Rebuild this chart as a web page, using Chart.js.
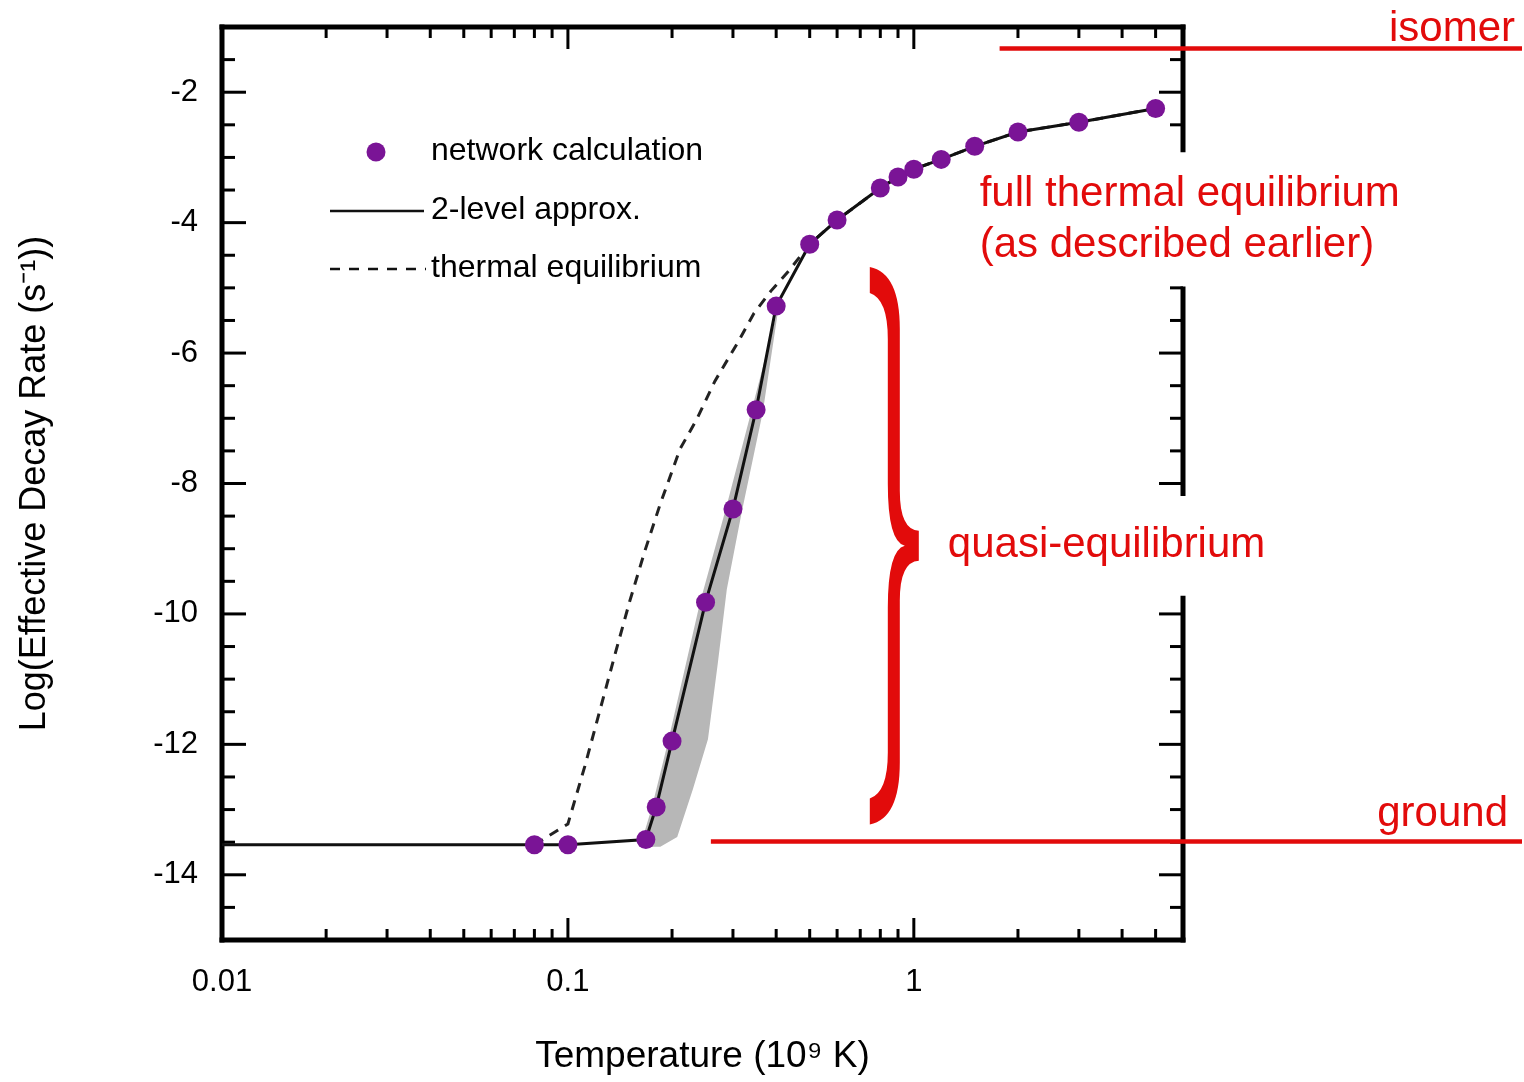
<!DOCTYPE html>
<html>
<head>
<meta charset="utf-8">
<script src="https://cdn.jsdelivr.net/npm/chart.js@4.4.1/dist/chart.umd.min.js"></script>
<style>
html,body{margin:0;padding:0;background:#fff;}
#wrap{width:1524px;height:1082px;position:relative;}
</style>
</head>
<body>
<div id="wrap"><canvas id="c" width="1524" height="1082"></canvas></div>
<script>
// ---------------- DATA ----------------
const networkT        = [0.08, 0.1, 0.168, 0.18, 0.2, 0.25, 0.3, 0.35, 0.4, 0.5, 0.6, 0.8, 0.9, 1, 1.2, 1.5, 2, 3, 5];
const networkLogRate  = [-13.54, -13.54, -13.46, -12.96, -11.95, -9.82, -8.39, -6.87, -5.28, -4.33, -3.96, -3.47, -3.30, -3.18, -3.03, -2.83, -2.61, -2.46, -2.25];

const twoLevelT       = [0.01, 0.08, 0.1, 0.168, 0.18, 0.2, 0.25, 0.3, 0.35, 0.4, 0.5, 0.6, 0.8, 0.9, 1, 1.2, 1.5, 2, 3, 5];
const twoLevelLogRate = [-13.54, -13.54, -13.54, -13.46, -12.96, -11.95, -9.82, -8.39, -6.87, -5.28, -4.33, -3.96, -3.47, -3.30, -3.18, -3.03, -2.83, -2.61, -2.46, -2.25];

const thermalT        = [0.08, 0.1, 0.112, 0.124, 0.137, 0.151, 0.167, 0.185, 0.211, 0.236, 0.266, 0.308, 0.345, 0.386, 0.435, 0.5, 0.6, 0.8, 0.9, 1, 1.2, 1.5, 2, 3, 5];
const thermalLogRate  = [-13.54, -13.22, -12.33, -11.46, -10.61, -9.80, -9.03, -8.31, -7.47, -7.01, -6.43, -5.86, -5.39, -5.05, -4.74, -4.33, -3.96, -3.47, -3.30, -3.18, -3.03, -2.83, -2.61, -2.46, -2.25];

// uncertainty band outline (upper edge going down, then lower edge going up)
const bandT           = [0.407, 0.340, 0.286, 0.241, 0.195, 0.175, 0.164, 0.170, 0.185, 0.207, 0.230, 0.254, 0.271, 0.288, 0.318, 0.366, 0.407];
const bandLogRate     = [-5.28, -6.87, -8.39, -9.82, -11.95, -12.96, -13.46, -13.57, -13.57, -13.42, -12.68, -11.92, -10.77, -9.62, -8.44, -6.90, -5.28];

const xTickValues     = [0.01, 0.1, 1];
const yTickValues     = [-14, -12, -10, -8, -6, -4, -2];

const isomerLevel     = -1.33;   // log rate of isomer
const groundLevel     = -13.49;  // log rate of ground state
const isomerStartT    = 1.77;
const groundStartT    = 0.259;
const quasiRange      = [-4.68, -13.23]; // brace extent (log rate)

const legendLabels    = ['network calculation', '2-level approx.', 'thermal equilibrium'];
const xTitle          = 'Temperature (10\u2079 K)';
const yTitle          = 'Log(Effective Decay Rate (s\u207B\u00B9))';

// ---------------- STYLE ----------------
const FONT = "'Liberation Sans', Arial, Helvetica, sans-serif";
const PURPLE = '#7a1496';
const RED = '#e20b0b';
const toXY = (xs, ys) => xs.map((t, i) => ({x: t, y: ys[i]}));

const decor = {
  id: 'decor',
  beforeDatasetsDraw(chart) {
    const {ctx, chartArea: a, scales: {x, y}} = chart;
    const gaps = [[-4.98, -2.92], [-9.72, -8.19]];
    const inGap = v => gaps.some(g => v >= g[0] && v <= g[1]);
    ctx.save();
    ctx.strokeStyle = '#000';
    ctx.lineWidth = 3;
    ctx.lineCap = 'butt';
    const seg = (x1, y1, x2, y2) => { ctx.beginPath(); ctx.moveTo(x1, y1); ctx.lineTo(x2, y2); ctx.stroke(); };
    for (let k = -30; k <= -2; k++) {
      const v = k / 2;
      const py = y.getPixelForValue(v);
      const major = (k % 4 === 0);
      const len = major ? 24 : 13;
      seg(a.left, py, a.left + len, py);
      if (!inGap(v)) seg(a.right, py, a.right - len, py);
    }
    for (const d of [0.01, 0.1, 1]) {
      for (let m = 1; m <= 9; m++) {
        const val = m * d;
        if (val > 6.0001) break;
        const px = x.getPixelForValue(val);
        const len = m === 1 ? 22 : 11;
        seg(px, a.bottom, px, a.bottom - len);
        seg(px, a.top, px, a.top + len);
      }
    }
    ctx.lineWidth = 5;
    ctx.lineCap = 'square';
    seg(a.left, a.top, a.right, a.top);
    seg(a.left, a.bottom, a.right, a.bottom);
    seg(a.left, a.top, a.left, a.bottom);
    const g1a = y.getPixelForValue(gaps[0][1]), g1b = y.getPixelForValue(gaps[0][0]);
    const g2a = y.getPixelForValue(gaps[1][1]), g2b = y.getPixelForValue(gaps[1][0]);
    ctx.lineCap = 'butt';
    seg(a.right, a.top - 2.5, a.right, g1a);
    seg(a.right, g1b, a.right, g2a);
    seg(a.right, g2b, a.right, a.bottom + 2.5);
    ctx.restore();
  },
  afterDatasetsDraw(chart) {
    const {ctx, chartArea: a, scales: {x, y}, width} = chart;
    ctx.save();
    ctx.strokeStyle = RED;
    ctx.lineWidth = 4.5;
    const yi = y.getPixelForValue(isomerLevel);
    const yg = y.getPixelForValue(groundLevel);
    ctx.beginPath(); ctx.moveTo(x.getPixelForValue(isomerStartT), yi); ctx.lineTo(width - 2, yi); ctx.stroke();
    ctx.beginPath(); ctx.moveTo(x.getPixelForValue(groundStartT), yg); ctx.lineTo(width - 2, yg); ctx.stroke();

    // brace
    const yt = y.getPixelForValue(quasiRange[0]);
    const yb = y.getPixelForValue(quasiRange[1]);
    const ym = (yt + yb) / 2;
    const xl = x.getPixelForValue(0.746);
    const xs = xl + 24, xt = xl + 49, hw = 6;
    ctx.fillStyle = RED;
    ctx.beginPath();
    ctx.moveTo(xl, yt);
    ctx.quadraticCurveTo(xs + hw, yt + 6, xs + hw, yt + 62);
    ctx.lineTo(xs + hw, ym - 55);
    ctx.quadraticCurveTo(xs + hw, ym - 16, xt, ym - 15);
    ctx.lineTo(xt, ym + 15);
    ctx.quadraticCurveTo(xs + hw, ym + 16, xs + hw, ym + 55);
    ctx.lineTo(xs + hw, yb - 62);
    ctx.quadraticCurveTo(xs + hw, yb - 6, xl, yb);
    ctx.lineTo(xl, yb - 26);
    ctx.quadraticCurveTo(xs - hw, yb - 32, xs - hw, yb - 72);
    ctx.lineTo(xs - hw, ym + 62);
    ctx.quadraticCurveTo(xs - hw, ym + 4, xt - 14, ym);
    ctx.quadraticCurveTo(xs - hw, ym - 4, xs - hw, ym - 62);
    ctx.lineTo(xs - hw, yt + 72);
    ctx.quadraticCurveTo(xs - hw, yt + 32, xl, yt + 26);
    ctx.closePath();
    ctx.fill();

    // red texts
    ctx.font = '42px ' + FONT;
    ctx.textBaseline = 'alphabetic';
    ctx.textAlign = 'right';
    ctx.fillText('isomer', width - 9, yi - 8);
    ctx.fillText('ground', width - 16, yg - 16);
    ctx.textAlign = 'left';
    const xf = x.getPixelForValue(1.55);
    ctx.fillText('full thermal equilibrium', xf, y.getPixelForValue(-3.75));
    ctx.fillText('(as described earlier)', xf, y.getPixelForValue(-4.53));
    ctx.fillText('quasi-equilibrium', xt + 29, ym + 11);

    // legend
    const lx = a.left, ly = a.top;
    ctx.fillStyle = PURPLE;
    ctx.beginPath(); ctx.arc(lx + 154, ly + 125, 9.5, 0, Math.PI * 2); ctx.fill();
    ctx.strokeStyle = '#111';
    ctx.lineWidth = 2.5;
    ctx.beginPath(); ctx.moveTo(lx + 108, ly + 184); ctx.lineTo(lx + 202, ly + 184); ctx.stroke();
    ctx.setLineDash([10, 9]);
    ctx.beginPath(); ctx.moveTo(lx + 108, ly + 242); ctx.lineTo(lx + 204, ly + 242); ctx.stroke();
    ctx.setLineDash([]);
    ctx.fillStyle = '#000';
    ctx.font = '32px ' + FONT;
    ctx.textBaseline = 'middle';
    ctx.fillText(legendLabels[0], lx + 209, ly + 124);
    ctx.fillText(legendLabels[1], lx + 209, ly + 183);
    ctx.fillText(legendLabels[2], lx + 209, ly + 241);
    ctx.restore();
  }
};

Chart.defaults.font.family = FONT;
Chart.defaults.color = '#000';

new Chart(document.getElementById('c'), {
  type: 'line',
  data: {
    datasets: [
      {
        label: legendLabels[0],
        data: toXY(networkT, networkLogRate),
        showLine: false,
        pointRadius: 9.5,
        pointBackgroundColor: PURPLE,
        pointBorderWidth: 0,
        order: 0
      },
      {
        label: legendLabels[1],
        data: toXY(twoLevelT, twoLevelLogRate),
        borderColor: '#111',
        borderWidth: 3,
        pointRadius: 0,
        fill: false,
        order: 1
      },
      {
        label: legendLabels[2],
        data: toXY(thermalT, thermalLogRate),
        borderColor: '#222',
        borderWidth: 3,
        borderDash: [10, 8],
        pointRadius: 0,
        fill: false,
        order: 2
      },
      {
        label: 'band',
        data: toXY(bandT, bandLogRate),
        borderWidth: 0,
        borderColor: 'rgba(0,0,0,0)',
        backgroundColor: '#b7b7b7',
        pointRadius: 0,
        fill: 'shape',
        order: 3
      }
    ]
  },
  options: {
    responsive: false,
    animation: false,
    events: [],
    layout: {padding: {top: 27, right: 341, left: 0, bottom: 0}},
    elements: {line: {tension: 0}},
    plugins: {legend: {display: false}, tooltip: {enabled: false}, title: {display: false}},
    scales: {
      x: {
        type: 'logarithmic',
        min: 0.01,
        max: 6,
        grid: {display: false},
        border: {display: false},
        afterBuildTicks: s => { s.ticks = xTickValues.map(v => ({value: v})); },
        afterFit: s => { s.height = 142; s.paddingLeft = 0; s.paddingRight = 0; },
        ticks: {
          autoSkip: false, maxRotation: 0, padding: 16,
          font: {size: 31}, color: '#000',
          callback: v => String(v)
        },
        title: {display: true, text: xTitle, font: {size: 37}, color: '#000', padding: {top: 0, bottom: 3}}
      },
      y: {
        type: 'linear',
        min: -15,
        max: -1,
        grid: {display: false},
        border: {display: false},
        afterBuildTicks: s => { s.ticks = yTickValues.map(v => ({value: v})); },
        afterFit: s => { s.width = 222; s.paddingTop = 0; s.paddingBottom = 0; },
        ticks: {
          padding: 16, font: {size: 31}, color: '#000',
          callback: v => String(v)
        },
        title: {display: true, text: yTitle, font: {size: 36}, color: '#000', padding: {top: 13, bottom: 0}}
      }
    }
  },
  plugins: [decor]
});
</script>
</body>
</html>
